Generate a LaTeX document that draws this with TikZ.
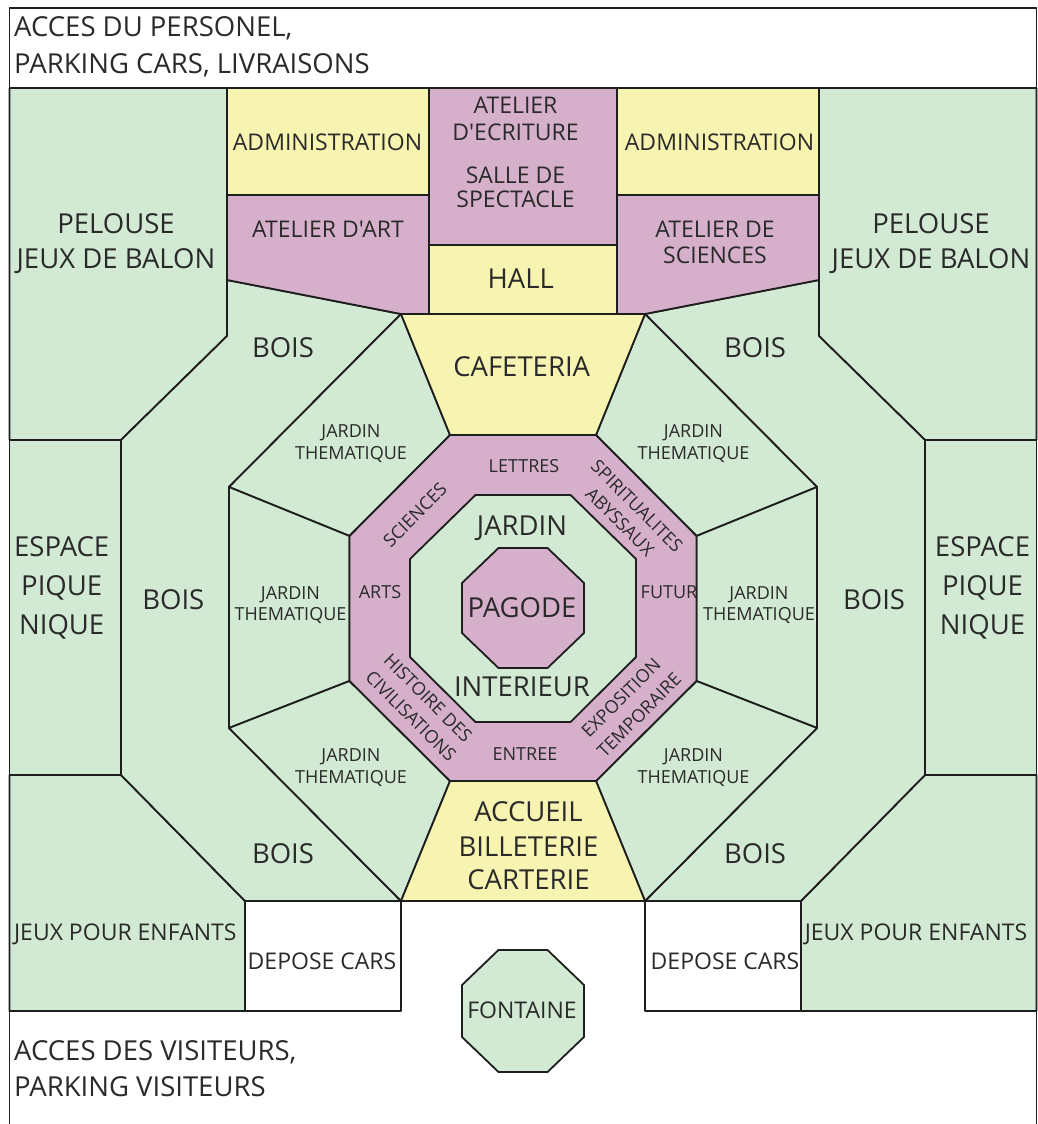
\documentclass[tikz,border=0pt]{standalone}
\usepackage{fontspec}
\setmainfont{Open Sans}[Ligatures=TeXOff]
\definecolor{grn}{HTML}{D2E9D3}
\definecolor{ylw}{HTML}{F7F4B2}
\definecolor{ppl}{HTML}{D6B0CB}
\definecolor{lc}{HTML}{1E1E1E}
\definecolor{tc}{HTML}{2A2A2A}
\tikzset{
  zone/.style={draw=lc, line width=1.8pt, line join=round},
  grz/.style={zone, fill=grn},
  ylz/.style={zone, fill=ylw},
  ppz/.style={zone, fill=ppl},
  whz/.style={zone, fill=white},
  lbl/.style={text=tc, inner sep=0pt, anchor=base},
  big/.style={lbl, font=\fontsize{27.5}{33}\selectfont},
  mid/.style={lbl, font=\fontsize{23}{27}\selectfont},
  sml/.style={lbl, font=\fontsize{18}{21}\selectfont},
  rot/.style={sml, anchor=center},
}
\begin{document}
\begin{tikzpicture}[x=1pt,y=-1pt]
\useasboundingbox (0,0) rectangle (1037,1124);
\begin{scope}[xshift=523pt]
\foreach \s in {-1,1}{
  % outer green strips
  \path[grz] (\s*513.5,88) -- (\s*296,88) -- (\s*296,336) -- (\s*402,440) -- (\s*513.5,440) -- cycle;
  \path[grz] (\s*513.5,440) rectangle (\s*402,775);
  \path[grz] (\s*513.5,775) -- (\s*402,775) -- (\s*278,901) -- (\s*278,1011) -- (\s*513.5,1011) -- cycle;
  \path[whz] (\s*278,901) rectangle (\s*122,1011);
  % bois
  \path[grz] (\s*296,280) -- (\s*122,314) -- (\s*294,487) -- (\s*294,728) -- (\s*122,901) -- (\s*278,901) -- (\s*402,775) -- (\s*402,440) -- (\s*296,336) -- cycle;
  % jardins thematiques
  \path[grz] (\s*122,314) -- (\s*73,435) -- (\s*173.5,536) -- (\s*294,487) -- cycle;
  \path[grz] (\s*294,487) -- (\s*173.5,536) -- (\s*173.5,681) -- (\s*294,728) -- cycle;
  \path[grz] (\s*294,728) -- (\s*173.5,681) -- (\s*73,781) -- (\s*122,901) -- cycle;
  % top buildings
  \path[ylz] (\s*296,88) rectangle (\s*94,195);
  \path[ppz] (\s*296,195) -- (\s*94,195) -- (\s*94,314) -- (\s*122,314) -- (\s*296,280) -- cycle;
}
\path[ppz] (-94,88) rectangle (94,245);
\path[ylz] (-94,245) rectangle (94,314);
\path[ylz] (-122,314) -- (122,314) -- (73,435) -- (-73,435) -- cycle;
\path[ylz] (-73,781) -- (73,781) -- (122,901) -- (-122,901) -- cycle;
% ring
\path[ppz] (-73,435) -- (73,435) -- (173.5,536) -- (173.5,681) -- (73,781) -- (-73,781) -- (-173.5,681) -- (-173.5,536) -- cycle;
\path[grz] (-47.5,495) -- (47.5,495) -- (113,559) -- (113,657) -- (47.5,722) -- (-47.5,722) -- (-113,657) -- (-113,559) -- cycle;
\path[ppz] (-24.5,548) -- (24.5,548) -- (61,583) -- (61,633) -- (24.5,668) -- (-24.5,668) -- (-61,633) -- (-61,583) -- cycle;
% fontaine
\path[grz] (-24.5,950) -- (24.5,950) -- (61,985) -- (61,1037) -- (24.5,1072) -- (-24.5,1072) -- (-61,1037) -- (-61,985) -- cycle;
% frame
\draw[zone] (-513.5,1124) -- (-513.5,8) -- (513.5,8) -- (513.5,1124);
\end{scope}

% labels
\node[big, anchor=base west] (pers1) at (14,36.7) {ACCES DU PERSONEL,};
\node[big, anchor=base west] (pers2) at (14,73.3) {PARKING CARS, LIVRAISONS};
\node[big] (pelL1) at (116,233.3) {PELOUSE};
\node[big] (pelL2) at (116,268.5) {JEUX DE BALON};
\node[big] (pelR1) at (931,233.3) {PELOUSE};
\node[big] (pelR2) at (931,268.5) {JEUX DE BALON};
\node[mid] (admL) at (327.5,150.5) {ADMINISTRATION};
\node[mid] (admR) at (719.5,150.5) {ADMINISTRATION};
\node[mid] (art) at (328,237) {ATELIER D'ART};
\node[mid] (sci1) at (715,237) {ATELIER DE};
\node[mid] (sci2) at (715,263) {SCIENCES};
\node[mid] (ecr1) at (515.5,113.3) {ATELIER};
\node[mid] (ecr2) at (515.5,140) {D'ECRITURE};
\node[mid] (sal1) at (515.5,183.3) {SALLE DE};
\node[mid] (sal2) at (515.5,207.3) {SPECTACLE};
\node[big] (hall) at (520.7,288.3) {HALL};
\node[big] (cafe) at (521.7,376.7) {CAFETERIA};
\node[big] (boisTL) at (283,357.3) {BOIS};
\node[big] (boisTR) at (755,357.3) {BOIS};
\node[sml] (jtTL1) at (351,437.3) {JARDIN};
\node[sml] (jtTL2) at (351,459) {THEMATIQUE};
\node[sml] (jtTR1) at (693.5,437.3) {JARDIN};
\node[sml] (jtTR2) at (693.5,459) {THEMATIQUE};
\node[sml] (let) at (524,472.7) {LETTRES};
\node[rot, rotate=45] (scs) at (415,515) {SCIENCES};
\node[rot, rotate=-45] (spi) at (637,506) {SPIRITUALITES};
\node[rot, rotate=-45] (aby) at (620,522) {ABYSSAUX};
\node[big] (jin) at (522,535.5) {JARDIN};
\node[big] (pag) at (522,617.5) {PAGODE};
\node[big] (int) at (522,696.5) {INTERIEUR};
\node[sml] (arts) at (380,598.3) {ARTS};
\node[sml] (fut) at (669,598.3) {FUTUR};
\node[sml] (jtML1) at (290.5,599) {JARDIN};
\node[sml] (jtML2) at (290.5,620) {THEMATIQUE};
\node[sml] (jtMR1) at (759,599) {JARDIN};
\node[sml] (jtMR2) at (759,620) {THEMATIQUE};
\node[rot, rotate=-45] (his) at (428,698) {HISTOIRE DES};
\node[rot, rotate=-45] (civ) at (411,716) {CIVILISATIONS};
\node[rot, rotate=45] (exp) at (621,698) {EXPOSITION};
\node[rot, rotate=45] (tem) at (639,715) {TEMPORAIRE};
\node[sml] (ent) at (525,760) {ENTREE};
\node[sml] (jtBL1) at (351,761.7) {JARDIN};
\node[sml] (jtBL2) at (351,783.3) {THEMATIQUE};
\node[sml] (jtBR1) at (693.5,761.7) {JARDIN};
\node[sml] (jtBR2) at (693.5,783.3) {THEMATIQUE};
\node[big] (espL1) at (61.7,556.7) {ESPACE};
\node[big] (espL2) at (61.7,595.5) {PIQUE};
\node[big] (espL3) at (61.7,634.5) {NIQUE};
\node[big] (espR1) at (982.5,556.7) {ESPACE};
\node[big] (espR2) at (982.5,595.5) {PIQUE};
\node[big] (espR3) at (982.5,634.5) {NIQUE};
\node[big] (boisML) at (173.3,609.3) {BOIS};
\node[big] (boisMR) at (874,609.3) {BOIS};
\node[big] (boisBL) at (283,863.3) {BOIS};
\node[big] (boisBR) at (755,863.3) {BOIS};
\node[big] (acc1) at (528.5,821.7) {ACCUEIL};
\node[big] (acc2) at (528.5,856) {BILLETERIE};
\node[big] (acc3) at (528.5,889.3) {CARTERIE};
\node[mid] (jeuL) at (125.3,940) {JEUX POUR ENFANTS};
\node[mid] (jeuR) at (916,940) {JEUX POUR ENFANTS};
\node[mid] (depL) at (322,969.3) {DEPOSE CARS};
\node[mid] (depR) at (725,969.3) {DEPOSE CARS};
\node[mid] (fon) at (522,1018.3) {FONTAINE};
\node[big, anchor=base west] (vis1) at (14,1060) {ACCES DES VISITEURS,};
\node[big, anchor=base west] (vis2) at (14,1096) {PARKING VISITEURS};
\end{tikzpicture}
\end{document}
